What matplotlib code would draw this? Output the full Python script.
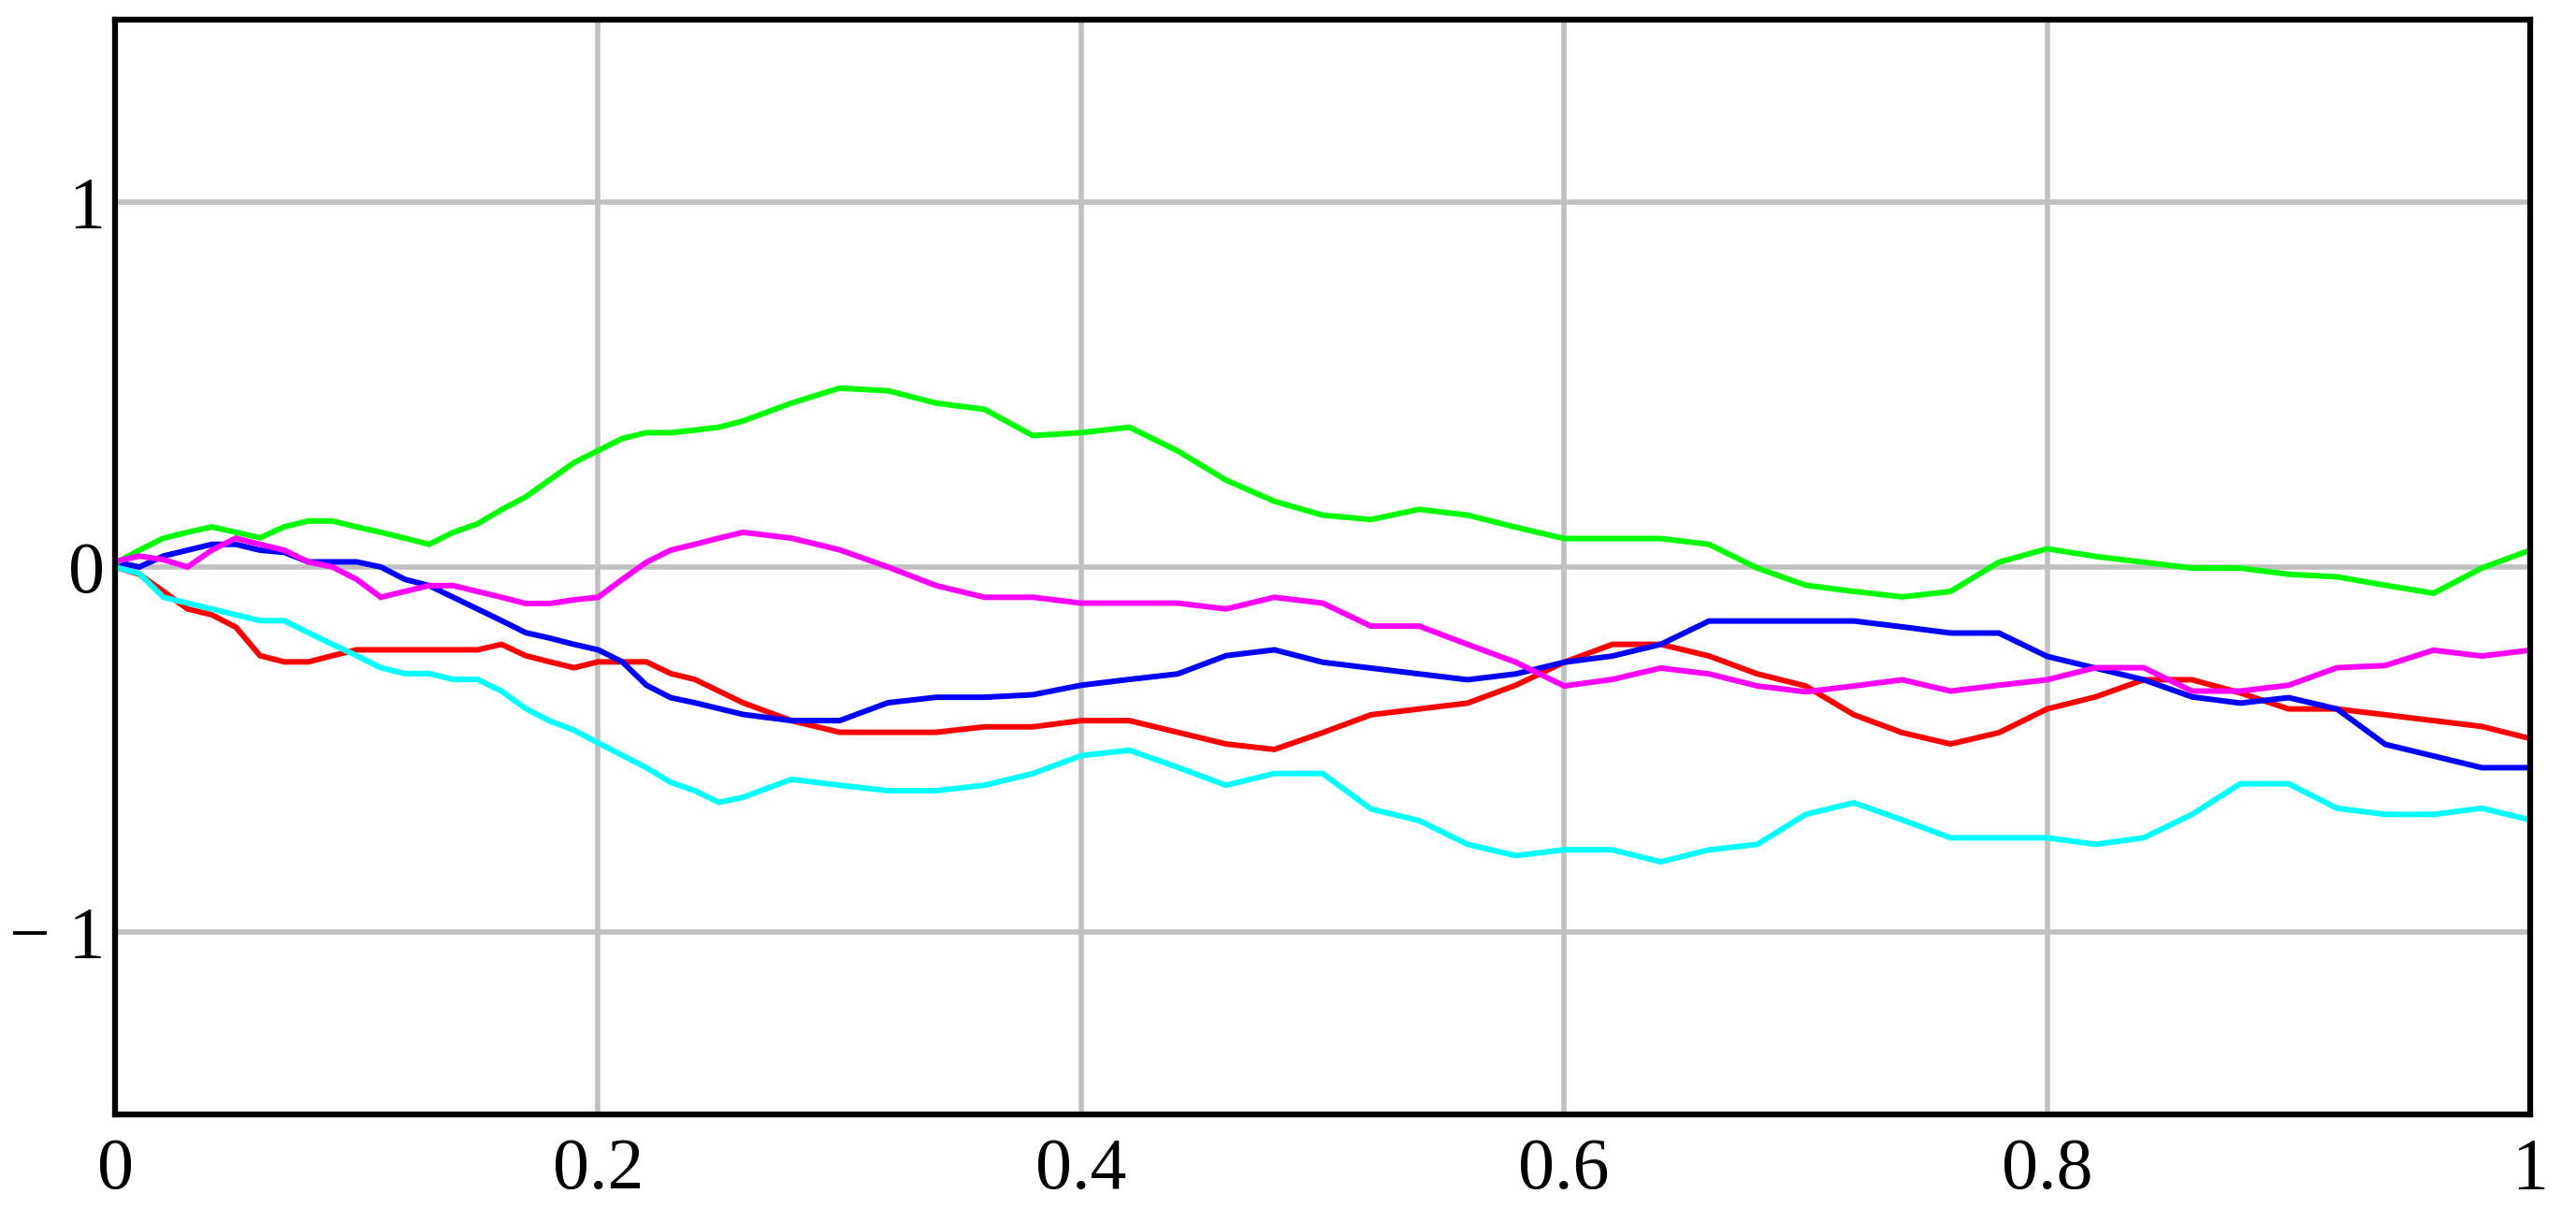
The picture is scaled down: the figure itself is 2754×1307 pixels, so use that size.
import numpy as np
import matplotlib
matplotlib.use("Agg")
import matplotlib.pyplot as plt

# sample positions along the x axis
x = [0.00, 0.01, 0.02, 0.03, 0.04, 0.05, 0.06, 0.07, 0.08, 0.09,
     0.10, 0.11, 0.12, 0.13, 0.14, 0.15, 0.16, 0.17, 0.18, 0.19,
     0.20, 0.21, 0.22, 0.23, 0.24, 0.25, 0.26,
     0.28, 0.30, 0.32, 0.34, 0.36, 0.38, 0.40, 0.42, 0.44, 0.46,
     0.48, 0.50, 0.52, 0.54, 0.56, 0.58, 0.60, 0.62, 0.64, 0.66,
     0.68, 0.70, 0.72, 0.74, 0.76, 0.78, 0.80, 0.82, 0.84, 0.86,
     0.88, 0.90, 0.92, 0.94, 0.96, 0.98, 1.00]

red = [0.0, -0.02, -0.067, -0.115, -0.131, -0.165, -0.243, -0.26, -0.26, -0.243,
       -0.227, -0.227, -0.227, -0.227, -0.227, -0.227, -0.212, -0.243, -0.26, -0.276,
       -0.26, -0.26, -0.26, -0.292, -0.308, -0.34, -0.372,
       -0.421, -0.453, -0.453, -0.453, -0.438, -0.438, -0.421, -0.421, -0.453, -0.485,
       -0.5, -0.454, -0.405, -0.389, -0.373, -0.324, -0.261, -0.212, -0.212, -0.244,
       -0.293, -0.326, -0.405, -0.454, -0.485, -0.454, -0.389, -0.356, -0.309, -0.309,
       -0.345, -0.389, -0.389, -0.405, -0.421, -0.437, -0.47]

blue = [0.014, 0.0, 0.03, 0.046, 0.062, 0.062, 0.046, 0.04, 0.014, 0.014,
        0.014, 0.0, -0.034, -0.051, -0.083, -0.115, -0.147, -0.18, -0.195, -0.212,
        -0.227, -0.26, -0.324, -0.358, -0.372, -0.388, -0.404,
        -0.421, -0.421, -0.372, -0.357, -0.357, -0.35, -0.324, -0.308, -0.293, -0.243,
        -0.227, -0.261, -0.277, -0.293, -0.309, -0.293, -0.261, -0.244, -0.212, -0.148,
        -0.148, -0.148, -0.148, -0.164, -0.181, -0.181, -0.245, -0.277, -0.309, -0.356,
        -0.373, -0.358, -0.389, -0.486, -0.518, -0.55, -0.55]

green = [0.01, 0.046, 0.079, 0.095, 0.11, 0.095, 0.08, 0.11, 0.126, 0.126,
         0.11, 0.095, 0.079, 0.062, 0.095, 0.118, 0.157, 0.192, 0.239, 0.286,
         0.319, 0.352, 0.368, 0.368, 0.375, 0.383, 0.40,
         0.449, 0.49, 0.483, 0.449, 0.432, 0.36, 0.368, 0.383, 0.318, 0.238,
         0.18, 0.142, 0.13, 0.158, 0.142, 0.109, 0.078, 0.078, 0.078, 0.062,
         -0.003, -0.05, -0.067, -0.082, -0.067, 0.013, 0.05, 0.029, 0.013, -0.003,
         -0.003, -0.02, -0.027, -0.05, -0.072, -0.003, 0.046]

magenta = [0.015, 0.03, 0.02, 0.0, 0.046, 0.079, 0.062, 0.046, 0.014, 0.0,
           -0.034, -0.083, -0.067, -0.051, -0.051, -0.067, -0.083, -0.1, -0.1, -0.09,
           -0.083, -0.034, 0.013, 0.046, 0.062, 0.079, 0.095,
           0.079, 0.047, 0.0, -0.051, -0.083, -0.083, -0.099, -0.099, -0.099, -0.115,
           -0.083, -0.099, -0.162, -0.162, -0.212, -0.261, -0.326, -0.308, -0.277, -0.293,
           -0.326, -0.342, -0.326, -0.309, -0.34, -0.324, -0.309, -0.276, -0.276, -0.34,
           -0.34, -0.324, -0.276, -0.27, -0.228, -0.244, -0.228]

cyan = [0.0, -0.018, -0.083, -0.099, -0.115, -0.131, -0.147, -0.147, -0.18, -0.212,
        -0.243, -0.276, -0.292, -0.292, -0.308, -0.308, -0.34, -0.388, -0.422, -0.447,
        -0.482, -0.516, -0.55, -0.59, -0.613, -0.645, -0.631,
        -0.582, -0.598, -0.613, -0.613, -0.598, -0.566, -0.517, -0.502, -0.549, -0.598,
        -0.566, -0.566, -0.663, -0.695, -0.76, -0.791, -0.775, -0.775, -0.808, -0.775,
        -0.76, -0.678, -0.646, -0.693, -0.742, -0.742, -0.742, -0.76, -0.742, -0.678,
        -0.594, -0.594, -0.661, -0.678, -0.678, -0.661, -0.693]

x_ticks = [0, 0.2, 0.4, 0.6, 0.8, 1]
x_labels = ["0", "0.2", "0.4", "0.6", "0.8", "1"]
y_ticks = [-1, 0, 1]
y_labels = ["\u2212 1", "0", "1"]

fig = plt.figure(figsize=(27.54, 13.07), dpi=100)
ax = fig.add_axes([0.0447, 0.0888, 0.9375, 0.8952])

series = [(red, "#ff0000"), (blue, "#0000ff"), (green, "#00ff00"),
          (magenta, "#ff00ff"), (cyan, "#00ffff")]
for ys, col in series:
    ax.plot(x, ys, color=col, lw=4.3, solid_joinstyle="miter")

ax.set_xlim(0, 1)
ax.set_ylim(-1.5, 1.5)
ax.set_xticks(x_ticks)
ax.set_xticklabels(x_labels)
ax.set_yticks(y_ticks)
ax.set_yticklabels(y_labels)

ax.grid(True, color="#c0c0c0", lw=4)
ax.set_axisbelow(True)
for sp in ax.spines.values():
    sp.set_color("black")
    sp.set_linewidth(4.5)

ax.tick_params(length=0, labelsize=56)
ax.tick_params(axis="x", pad=18)
ax.tick_params(axis="y", pad=8)
for lab in ax.get_xticklabels() + ax.get_yticklabels():
    lab.set_family("Liberation Serif")

fig.savefig("out.png", dpi=100)
